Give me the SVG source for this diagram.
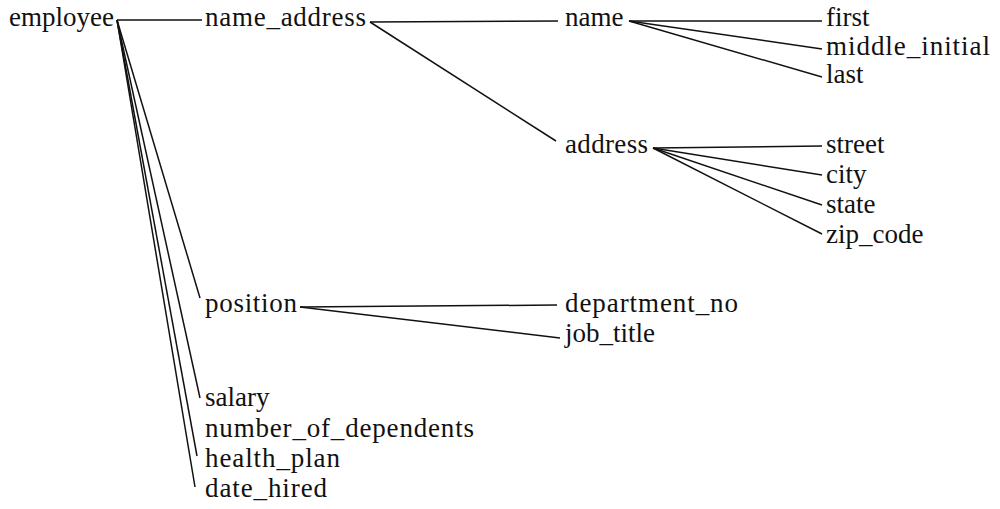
<svg xmlns="http://www.w3.org/2000/svg" width="1000" height="509" viewBox="0 0 1000 509">
<style>
.t{font-family:"Liberation Serif","Times New Roman",serif;font-size:27px;fill:#111}
.c line{stroke:#111;stroke-width:1.5;fill:none}
</style>
<rect width="1000" height="509" fill="#fff"/>
<g class="c" id="connectors">
<line x1="117" y1="20" x2="202" y2="20"/>
<line x1="117" y1="20" x2="200" y2="298"/>
<line x1="117" y1="20" x2="200" y2="398"/>
<line x1="117" y1="20" x2="197" y2="456"/>
<line x1="117" y1="20" x2="195" y2="487"/>
<line x1="370" y1="22" x2="558" y2="21"/>
<line x1="370" y1="22" x2="556" y2="141"/>
<line x1="629" y1="21" x2="822" y2="21"/>
<line x1="629" y1="21" x2="822" y2="49"/>
<line x1="629" y1="21" x2="822" y2="77"/>
<line x1="653" y1="148" x2="822" y2="146"/>
<line x1="653" y1="148" x2="822" y2="175"/>
<line x1="653" y1="148" x2="822" y2="205"/>
<line x1="653" y1="148" x2="822" y2="234"/>
<line x1="300" y1="307" x2="557" y2="305"/>
<line x1="300" y1="307" x2="560" y2="338"/>
</g>
<g id="employee"><text class="t" x="9" y="26">employee</text></g>
<g id="name_address"><text class="t" x="205" y="26" textLength="161">name_address</text></g>
<g id="name"><text class="t" x="565" y="26">name</text></g>
<g id="first"><text class="t" x="826" y="26">first</text></g>
<g id="middle_initial"><text class="t" x="826" y="55" textLength="164">middle_initial</text></g>
<g id="last"><text class="t" x="826" y="83">last</text></g>
<g id="address"><text class="t" x="565" y="153" textLength="83">address</text></g>
<g id="street"><text class="t" x="826" y="153">street</text></g>
<g id="city"><text class="t" x="826" y="183">city</text></g>
<g id="state"><text class="t" x="826" y="213">state</text></g>
<g id="zip_code"><text class="t" x="826" y="243">zip_code</text></g>
<g id="position"><text class="t" x="205" y="312" textLength="92">position</text></g>
<g id="department_no"><text class="t" x="565" y="312" textLength="173">department_no</text></g>
<g id="job_title"><text class="t" x="565" y="342">job_title</text></g>
<g id="salary"><text class="t" x="205" y="406">salary</text></g>
<g id="number_of_dependents"><text class="t" x="205" y="437" textLength="269">number_of_dependents</text></g>
<g id="health_plan"><text class="t" x="205" y="467" textLength="135">health_plan</text></g>
<g id="date_hired"><text class="t" x="205" y="497" textLength="122">date_hired</text></g>
</svg>
